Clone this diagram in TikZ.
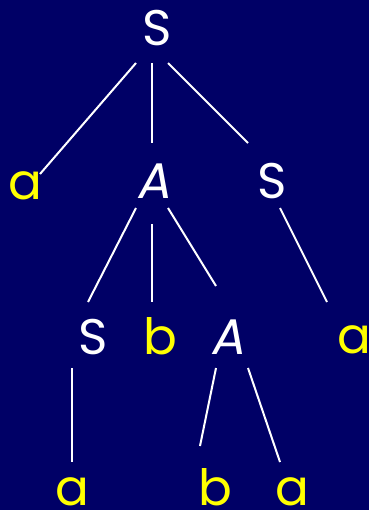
\documentclass[tikz,border=0pt]{standalone}
\usepackage{fontspec}
\setmainfont{Poppins}
\newfontfamily\slantfont[FakeSlant=0.18]{Poppins}
\usetikzlibrary{calc}
\definecolor{navybg}{RGB}{0,0,102}
\definecolor{termyellow}{RGB}{255,255,0}
\tikzset{
  sym/.style={anchor=base, inner sep=0pt, font=\fontsize{50}{50}\selectfont},
  nonterm/.style={sym, text=white},
  term/.style={sym, text=termyellow},
  edge/.style={draw=white, line width=2pt}
}
\begin{document}
\begin{tikzpicture}[x=1pt,y=-1pt]
\fill[navybg] (0,0) rectangle (369,510);
\useasboundingbox (0,0) rectangle (369,510);
% level 0
\node[nonterm] (root) at (157,46) {S};
% level 1
\node[term] (a1) at (25,200) {a};
\node[nonterm] (A1) at (153,199) {\slantfont A};
\node[nonterm] (S1) at (272,199) {S};
% level 2
\node[nonterm] (S2) at (93,354) {S};
\node[term] (b2) at (160,354) {b};
\node[nonterm] (A2) at (227,354) {\slantfont A};
\node[term] (a3) at (354,353) {a};
% level 3
\node[term] (a4) at (72,505) {a};
\node[term] (b4) at (215,505) {b};
\node[term] (a5) at (292,505) {a};
% edges
\draw[edge] ($(root.base)+(-21,17)$) -- ($(a1.base)+(15,-26)$);
\draw[edge] ($(root.base)+(-5,17)$) -- ($(A1.base)+(-1,-56)$);
\draw[edge] ($(root.base)+(11,17)$) -- ($(S1.base)+(-24,-56)$);
\draw[edge] ($(A1.base)+(-17,9)$) -- ($(S2.base)+(-5,-52)$);
\draw[edge] ($(A1.base)+(-1,25)$) -- ($(b2.base)+(-8,-52)$);
\draw[edge] ($(A1.base)+(15,9)$) -- ($(A2.base)+(-11,-68)$);
\draw[edge] ($(S1.base)+(8,9)$) -- ($(a3.base)+(-27,-51)$);
\draw[edge] ($(S2.base)+(-21,14)$) -- ($(a4.base)+(0,-43)$);
\draw[edge] ($(A2.base)+(-11,14)$) -- ($(b4.base)+(-15,-59)$);
\draw[edge] ($(A2.base)+(21,14)$) -- ($(a5.base)+(-12,-43)$);
\end{tikzpicture}
\end{document}
